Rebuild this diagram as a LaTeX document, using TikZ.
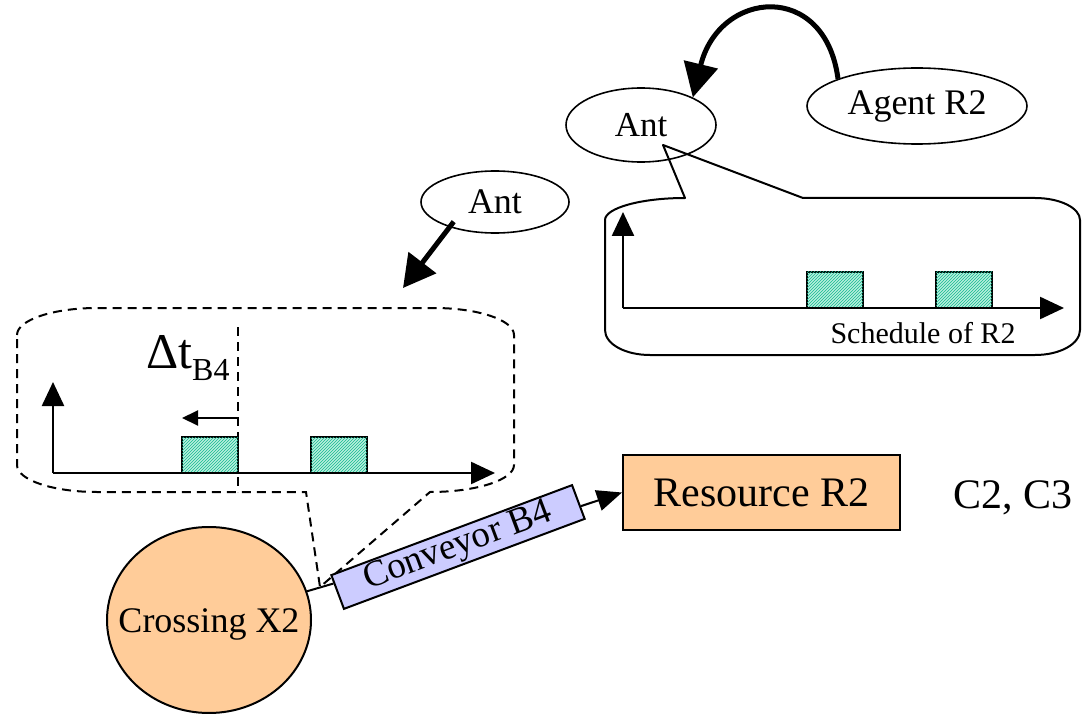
\documentclass[tikz,border=0pt]{standalone}
\usepackage{fontspec}
\setmainfont{Liberation Serif}
\usetikzlibrary{arrows.meta,shapes.geometric,patterns}
\definecolor{peach}{RGB}{255,204,153}
\definecolor{lav}{RGB}{204,204,255}
\definecolor{hatchbg}{RGB}{185,240,222}
\definecolor{hatchfg}{RGB}{20,185,145}
\newcommand{\myfs}[1]{\fontsize{#1}{#1}\selectfont}
\begin{document}
\begin{tikzpicture}[x=1pt,y=1pt,
  axis/.style={line width=2.4pt, -{Triangle[length=24pt,width=22pt]}},
  slot/.style={draw, line width=2pt, fill=hatchbg, postaction={pattern=north east lines, pattern color=hatchfg}},
  oval/.style={draw, ellipse, line width=1.6pt, fill=white, inner sep=0pt},
  bigarrow/.style={line width=5pt, -{Triangle[length=34pt,width=34pt]}},
  midarrow/.style={line width=5pt, -{Triangle[length=32pt,width=34pt]}},
  callout/.style={line width=2pt, line join=round},
  dashedcallout/.style={line width=2pt, dash pattern=on 9pt off 6pt},
  thinlink/.style={line width=2pt},
  linkarrow/.style={line width=2pt, -{Triangle[length=25pt,width=21pt]}}
]
\useasboundingbox (0,0) rectangle (1082,-714);

% ---------- top right: agent, ant, schedule of R2 ----------
\node[oval, minimum width=150pt, minimum height=74pt] (antR) at (641,-125) {\myfs{35}Ant};
\node[oval, minimum width=220pt, minimum height=76pt] (agent) at (917,-106) {\myfs{36}Agent R2};
\draw[bigarrow] (agent.161) .. controls (825,20) and (719,10) .. (antR.28);

\draw[callout] (605,-330) -- (605,-220)
  .. controls (605,-208) and (641,-198) .. (685,-198)
  -- (663,-145) -- (803,-198) -- (1035,-198)
  .. controls (1060,-198) and (1080,-208) .. (1080,-220)
  -- (1080,-330)
  .. controls (1080,-344) and (1060,-355) .. (1035,-355)
  -- (650,-355)
  .. controls (625,-355) and (605,-344) .. (605,-330) -- cycle;

\draw[slot] (807,-272) rectangle (863,-308);
\draw[slot] (936,-272) rectangle (992,-308);
\draw[axis] (623,-308) -- (623,-212);
\draw[axis] (623,-308) -- (1064,-308);
\node[anchor=base, inner sep=0pt] (sched) at (923,-343) {\myfs{30}Schedule of R2};

% ---------- left: ant and dashed callout ----------
\node[oval, minimum width=148pt, minimum height=62pt] (antL) at (495,-202) {\myfs{36}Ant};
\coordinate (antLtip) at (403,-288);
\draw[midarrow, shorten <=-7pt] (antL.209.6) -- (antLtip);

\draw[dashedcallout] (17,-335)
  .. controls (17,-320) and (53,-308) .. (97,-308)
  -- (434,-308)
  .. controls (478,-308) and (514,-320) .. (514,-335)
  -- (514,-465)
  .. controls (514,-480) and (476,-492) .. (430,-492)
  -- (320,-587) -- (306,-492)
  -- (97,-492)
  .. controls (53,-492) and (17,-480) .. (17,-465)
  -- cycle;

\draw[dashedcallout] (238,-327) -- (238,-492);
\draw[slot] (182,-437) rectangle (238,-473);
\draw[slot] (311,-437) rectangle (367,-473);
\draw[axis] (53,-473) -- (53,-382);
\draw[axis] (53,-473) -- (495,-473);
\draw[line width=2pt, -{Triangle[length=16pt,width=15pt]}] (238,-418) -- (182,-418);
\node[anchor=base west, inner sep=0pt] (dt) at (146,-368) {\myfs{50}Δt\raisebox{-12pt}{\myfs{32}B4}};

% ---------- bottom: crossing, conveyor, resource ----------
\node[draw, ellipse, fill=peach, line width=2pt, minimum width=204pt, minimum height=186pt, inner sep=0pt] (cross) at (209,-620) {};
\node[inner sep=0pt] (crosslbl) at (209,-624) {\myfs{36}Crossing X2};
\node[draw, rectangle, fill=lav, line width=2pt, rotate=20.5, minimum width=257pt, minimum height=36pt, inner sep=0pt] (conv) at (458,-547) {\myfs{37}Conveyor B4};
\node[draw, rectangle, fill=peach, line width=2pt, minimum width=277pt, minimum height=75pt, inner sep=0pt] (res) at (761.5,-492.5) {\myfs{42}Resource R2};
\node[anchor=base, inner sep=0pt] (c23) at (1013,-508) {\myfs{42}C2, C3};

\draw[thinlink] (cross) -- (conv);
\draw[linkarrow] (conv) -- (res.west);
\end{tikzpicture}
\end{document}
